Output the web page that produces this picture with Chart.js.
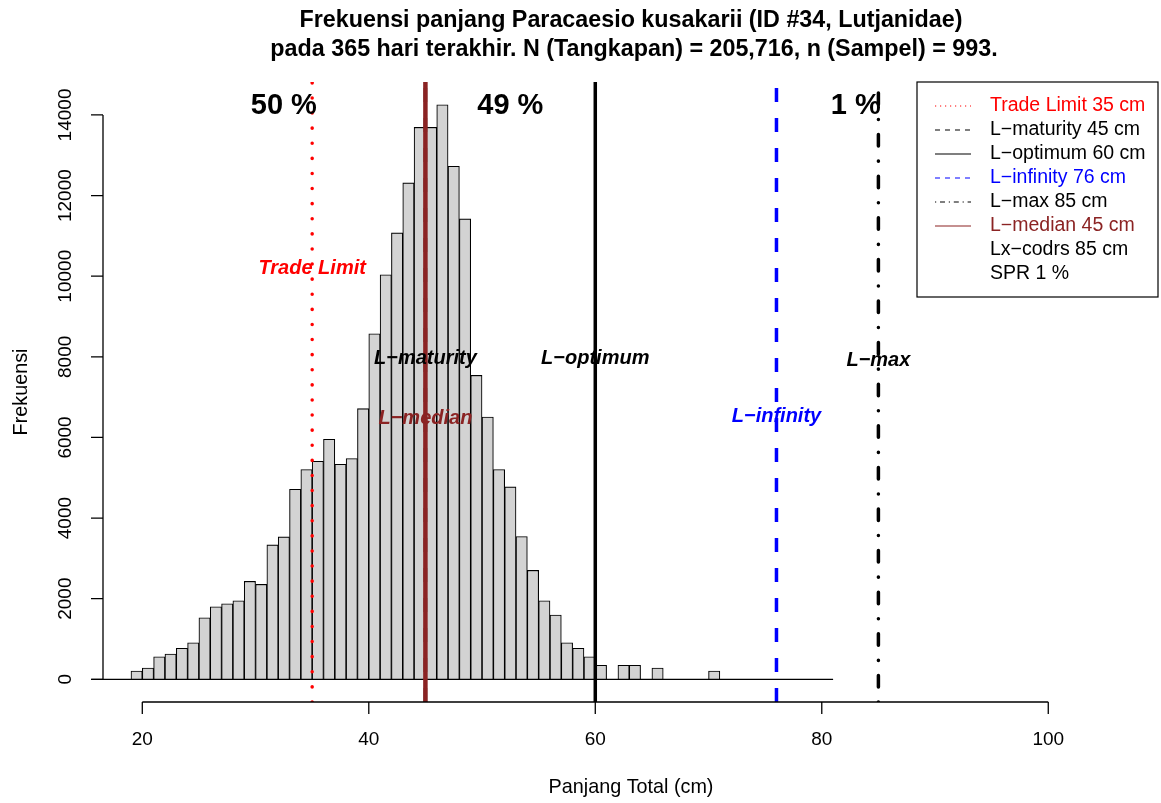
<!DOCTYPE html>
<html>
<head>
<meta charset="utf-8">
<script src="https://cdn.jsdelivr.net/npm/chart.js@4.4.1/dist/chart.umd.min.js"></script>
<style>
  body { margin: 0; background: #fff; }
  #wrap { width: 1161px; height: 803px; }
</style>
</head>
<body>
<div id="wrap"><canvas id="lenChart" width="1161" height="803"></canvas></div>
<script>
// histogram bins (lower edge, cm) and counts
const binStart = [19,20,21,22,23,24,25,26,27,28,29,30,31,32,33,34,35,36,37,38,39,
                  40,41,42,43,44,45,46,47,48,49,50,51,52,53,54,55,56,57,58,59,60,62,63,65,70];
const binCount = [206,280,560,627,768,907,1526,1799,1873,1948,2428,2354,3335,3533,4715,5203,5409,5954,5335,5476,6715,
                  8573,10035,11075,12314,13692,13692,14254,12726,11422,7540,6507,5203,4773,3543,2701,1948,1593,907,768,560,347,347,347,280,206];
const xTicks = [20, 40, 60, 80, 100];
const yTicks = [0, 2000, 4000, 6000, 8000, 10000, 12000, 14000];

const refNames = ['Trade Limit', 'L\u2212maturity', 'L\u2212optimum', 'L\u2212infinity', 'L\u2212max', 'L\u2212median'];
const refLengths = [35, 45, 60, 76, 85, 45];
const legendLabels = ['Trade Limit 35 cm', 'L\u2212maturity 45 cm', 'L\u2212optimum 60 cm', 'L\u2212infinity 76 cm',
                      'L\u2212max 85 cm', 'L\u2212median 45 cm', 'Lx\u2212codrs 85 cm', 'SPR 1 %'];
const pctLabels = ['50 %', '49 %', '1 %'];
const pctAt = [32.5, 52.5, 83];

const titleLines = ['Frekuensi panjang Paracaesio kusakarii (ID #34, Lutjanidae)',
                    'pada 365 hari terakhir. N (Tangkapan) = 205,716, n (Sampel) = 993.'];

// plot ranges (R adds 4% on each side)
const xMin = 16.53, xMax = 109.69;
const yMin = -563, yMax = 14818;

const FONT = '"Liberation Sans", Arial, Helvetica, sans-serif';
const brown = '#8B2323';
const refColors = ['#FF0000', '#000000', '#000000', '#0000FF', '#000000', brown];
const refDash = [[0.1, 15], [14, 16], [], [14, 16], [0.1, 15, 11.5, 15], []];
const refCap = ['round', 'butt', 'butt', 'butt', 'round', 'butt'];
const refWidth = [3.5, 3.5, 3.5, 3.5, 3.5, 4.5];
const refLabelY = [10180, 7970, 7970, 6530, 7900, 6480];
const legDash = [[1.2, 3.8], [5, 5], [], [5, 5], [1.2, 3.8, 5, 3.8], []];
const legColors = ['#FF0000', '#000000', '#000000', '#0000FF', '#000000', brown, '#000000', '#000000'];

const bars = binStart.map((b, i) => ({ x: b + 0.5, y: binCount[i] }));
const maxCount = Math.max(...binCount);

const datasets = [{
  type: 'bar',
  data: bars,
  backgroundColor: '#D3D3D3',
  borderColor: '#000000',
  borderWidth: 1.1,
  barPercentage: 1,
  categoryPercentage: 1,
  order: 20
}, {
  type: 'line',
  data: [{ x: 15.5, y: 0 }, { x: 81, y: 0 }],
  borderColor: '#000000',
  borderWidth: 1.3,
  pointRadius: 0,
  clip: false,
  order: 19
}];
refLengths.forEach((v, i) => {
  datasets.push({
    type: 'line',
    data: [{ x: v, y: yMin }, { x: v, y: yMax }],
    borderColor: refColors[i],
    borderWidth: refWidth[i],
    borderDash: refDash[i],
    borderCapStyle: refCap[i],
    pointRadius: 0,
    fill: false,
    order: 10 - i
  });
});

const rPlot = {
  id: 'rPlot',
  afterDatasetsDraw(chart) {
    const ctx = chart.ctx;
    const xs = chart.scales.x, ys = chart.scales.y;
    const area = chart.chartArea;
    ctx.save();
    ctx.fillStyle = '#000';

    // percentages
    ctx.font = 'bold 29px ' + FONT;
    ctx.textAlign = 'center';
    ctx.textBaseline = 'middle';
    pctLabels.forEach((t, i) => ctx.fillText(t, xs.getPixelForValue(pctAt[i]), ys.getPixelForValue(maxCount) + 1));

    // reference line labels
    ctx.font = 'italic bold 20px ' + FONT;
    refNames.forEach((t, i) => {
      ctx.fillStyle = refColors[i];
      ctx.fillText(t, xs.getPixelForValue(refLengths[i]), ys.getPixelForValue(refLabelY[i]));
    });

    // x axis
    ctx.strokeStyle = '#000';
    ctx.fillStyle = '#000';
    ctx.lineWidth = 1.3;
    const xb = area.bottom;
    ctx.beginPath();
    ctx.moveTo(xs.getPixelForValue(xTicks[0]), xb);
    ctx.lineTo(xs.getPixelForValue(xTicks[xTicks.length - 1]), xb);
    xTicks.forEach(t => {
      const px = xs.getPixelForValue(t);
      ctx.moveTo(px, xb);
      ctx.lineTo(px, xb + 12);
    });
    ctx.stroke();
    ctx.font = '19px ' + FONT;
    ctx.textBaseline = 'middle';
    xTicks.forEach(t => ctx.fillText(String(t), xs.getPixelForValue(t), 740));

    // y axis
    const yl = area.left;
    ctx.beginPath();
    ctx.moveTo(yl, ys.getPixelForValue(yTicks[0]));
    ctx.lineTo(yl, ys.getPixelForValue(yTicks[yTicks.length - 1]));
    yTicks.forEach(t => {
      const py = ys.getPixelForValue(t);
      ctx.moveTo(yl, py);
      ctx.lineTo(yl - 12, py);
    });
    ctx.stroke();
    yTicks.forEach(t => {
      ctx.save();
      ctx.translate(66, ys.getPixelForValue(t));
      ctx.rotate(-Math.PI / 2);
      ctx.fillText(String(t), 0, 0);
      ctx.restore();
    });

    // axis titles
    ctx.font = '19.8px ' + FONT;
    ctx.fillText('Panjang Total (cm)', 631, 788);
    ctx.save();
    ctx.translate(22, (area.top + area.bottom) / 2);
    ctx.rotate(-Math.PI / 2);
    ctx.fillText('Frekuensi', 0, 0);
    ctx.restore();

    // title
    ctx.font = 'bold 23.3px ' + FONT;
    ctx.textBaseline = 'alphabetic';
    ctx.fillText(titleLines[0], 631, 27);
    ctx.fillText(titleLines[1], 634, 56);

    // legend box
    const lx = 917, ly = 82, lw = 241, lh = 215;
    ctx.fillStyle = '#fff';
    ctx.fillRect(lx, ly, lw, lh);
    ctx.lineWidth = 1.2;
    ctx.strokeRect(lx, ly, lw, lh);
    ctx.font = '19.5px ' + FONT;
    ctx.textAlign = 'left';
    ctx.textBaseline = 'middle';
    legendLabels.forEach((t, i) => {
      const ry = 106 + i * 24;
      if (i < 6) {
        ctx.beginPath();
        ctx.strokeStyle = legColors[i];
        ctx.lineWidth = 1.2;
        ctx.setLineDash(legDash[i]);
        ctx.moveTo(935, ry);
        ctx.lineTo(971, ry);
        ctx.stroke();
        ctx.setLineDash([]);
      }
      ctx.fillStyle = legColors[i];
      ctx.fillText(t, 990, ry);
    });
    ctx.restore();
  }
};

new Chart(document.getElementById('lenChart'), {
  type: 'bar',
  data: { datasets: datasets },
  options: {
    responsive: false,
    animation: false,
    layout: { padding: { left: 103, right: 3, top: 82, bottom: 101 } },
    plugins: { legend: { display: false }, tooltip: { enabled: false }, title: { display: false } },
    scales: {
      x: { type: 'linear', min: xMin, max: xMax, offset: false, display: false, ticks: { stepSize: 10 } },
      y: { type: 'linear', min: yMin, max: yMax, display: false }
    }
  },
  plugins: [rPlot]
});
</script>
</body>
</html>
